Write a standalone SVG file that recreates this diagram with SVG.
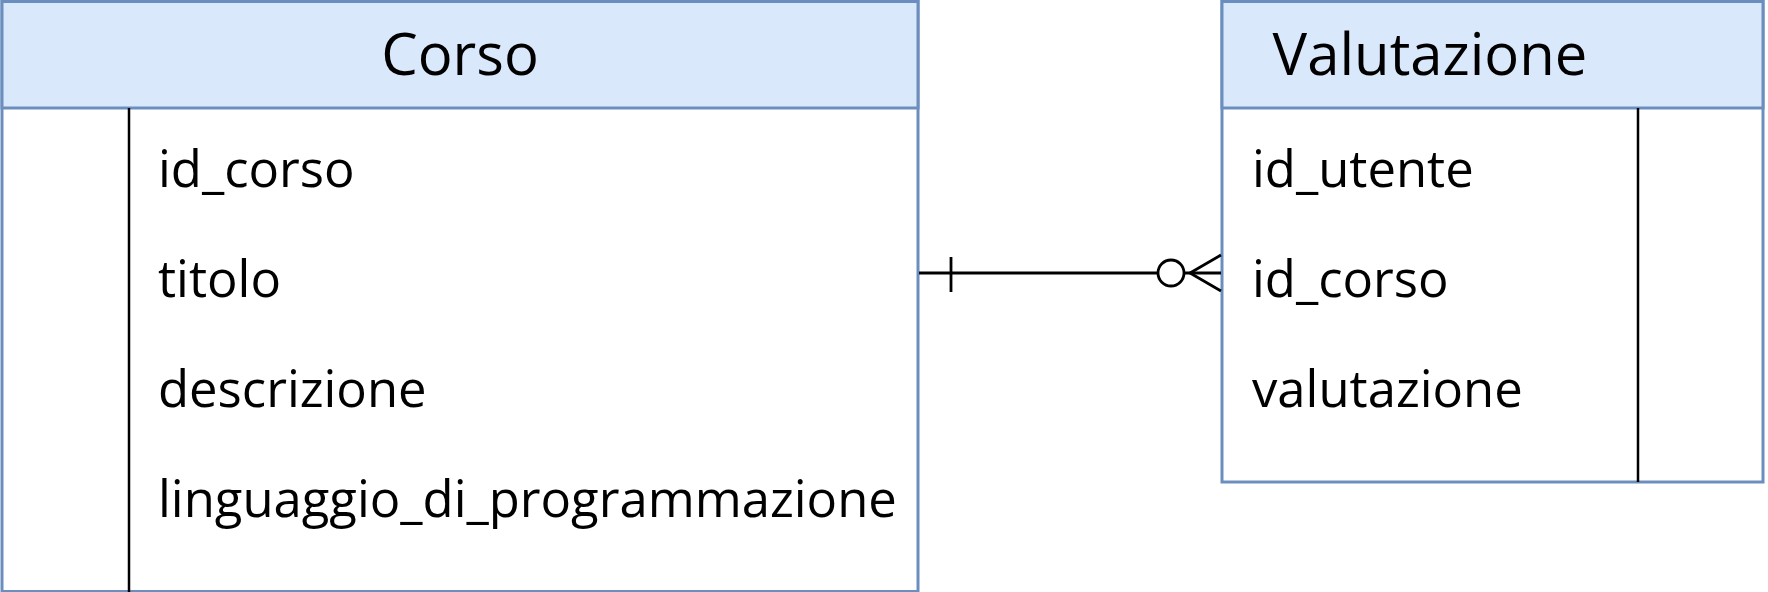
<svg xmlns="http://www.w3.org/2000/svg" width="1768" height="592" viewBox="0 0 1768 592">
<style>
.box{fill:#ffffff;stroke:#6c8ebf;stroke-width:3}
.hdr{fill:#dae8fc;stroke:#6c8ebf;stroke-width:3}
.div{stroke:#000;stroke-width:2.5}
.title{font-family:"Open Sans","Noto Sans",sans-serif;font-size:58px;fill:#000;text-anchor:middle}
.attr{font-family:"Open Sans","Noto Sans",sans-serif;font-size:50.8px;fill:#000}
.conn{stroke:#000;stroke-width:2.8;fill:none}
</style>
<rect width="1768" height="592" fill="#ffffff"/>
<g id="corso">
<rect class="box" x="2" y="1.5" width="916" height="590"/>
<rect class="hdr" x="2" y="1.5" width="916" height="106.5"/>
<line class="div" x1="129" y1="108" x2="129" y2="592"/>
<text class="title" x="460" y="75">Corso</text>
<text class="attr" x="158" y="187">id_corso</text>
<text class="attr" x="158" y="297">titolo</text>
<text class="attr" x="158" y="407">descrizione</text>
<text class="attr" x="158" y="517">linguaggio_di_programmazione</text>
</g>
<g id="valutazione">
<rect class="box" x="1222" y="1.5" width="541" height="480.5"/>
<rect class="hdr" x="1222" y="1.5" width="541" height="106.5"/>
<line class="div" x1="1638" y1="108" x2="1638" y2="482"/>
<text class="title" x="1430" y="75">Valutazione</text>
<text class="attr" x="1252" y="187">id_utente</text>
<text class="attr" x="1252" y="297">id_corso</text>
<text class="attr" x="1252" y="407">valutazione</text>
</g>
<g id="connectors">
<line class="conn" x1="919" y1="273" x2="1158" y2="273"/>
<line class="conn" x1="951" y1="257" x2="951" y2="292"/>
<circle class="conn" cx="1171" cy="273" r="13"/>
<line class="conn" x1="1184" y1="273" x2="1221" y2="273"/>
<path class="conn" d="M1221 255 L1190 273 L1221 291"/>
</g>
</svg>
